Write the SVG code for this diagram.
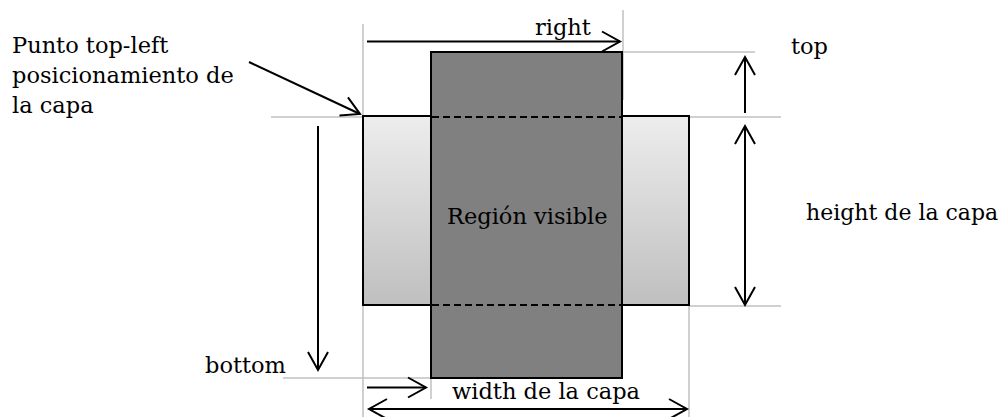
<svg xmlns="http://www.w3.org/2000/svg" width="1003" height="417" viewBox="0 0 1003 417">
<style>
.guide{stroke:#c0c0c0;stroke-width:1.5;fill:none}
.arr{stroke:#000;stroke-width:2;fill:none}
.lbl{font-family:"DejaVu Serif","Liberation Serif",serif;font-size:22.5px;fill:#000}
.box{stroke:#000;stroke-width:2}
.dash{stroke:#000;stroke-width:1.8;stroke-dasharray:7 4}
</style>
<defs>
<linearGradient id="lg" x1="0" y1="0" x2="0" y2="1">
<stop offset="0" stop-color="#ededed"/>
<stop offset="1" stop-color="#bfbfbf"/>
</linearGradient>
<marker id="ah" markerUnits="userSpaceOnUse" markerWidth="24" markerHeight="24" viewBox="-20 -12 24 24" refX="0" refY="0" orient="auto-start-reverse">
<path d="M-18,-10 L0,0 L-18,10" fill="none" stroke="#000" stroke-width="2"/>
</marker>
</defs>
<rect width="1003" height="417" fill="#fff"/>
<g id="guides">
<line class="guide" x1="363" y1="24" x2="363" y2="116"/>
<line class="guide" x1="623" y1="10" x2="623" y2="100"/>
<line class="guide" x1="622" y1="52" x2="755" y2="52"/>
<line class="guide" x1="271" y1="117" x2="363" y2="117"/>
<line class="guide" x1="689" y1="117" x2="781" y2="117"/>
<line class="guide" x1="689" y1="306" x2="781" y2="306"/>
<line class="guide" x1="363" y1="305" x2="363" y2="417"/>
<line class="guide" x1="689" y1="305" x2="689" y2="417"/>
<line class="guide" x1="283" y1="378" x2="431" y2="378"/>
<line class="guide" x1="431" y1="378" x2="431" y2="399"/>
</g>
<g id="capa">
<rect class="box" x="363" y="116" width="326" height="189" fill="url(#lg)"/>
</g>
<g id="region-visible">
<rect class="box" x="431" y="52" width="191" height="326" fill="#808080"/>
<line class="dash" x1="432" y1="117" x2="621" y2="117"/>
<line class="dash" x1="432" y1="305" x2="621" y2="305"/>
<text class="lbl" x="447" y="224">Región visible</text>
</g>
<g id="connectors">
<line class="arr" x1="367" y1="41.5" x2="620" y2="41.5" marker-end="url(#ah)"/>
<line class="arr" x1="249" y1="62" x2="360" y2="114" marker-end="url(#ah)"/>
<line class="arr" x1="745" y1="113" x2="745" y2="57" marker-end="url(#ah)"/>
<line class="arr" x1="745" y1="126" x2="745" y2="305" marker-start="url(#ah)" marker-end="url(#ah)"/>
<line class="arr" x1="318" y1="126" x2="318" y2="370" marker-end="url(#ah)"/>
<line class="arr" x1="367" y1="387.5" x2="426" y2="387.5" marker-end="url(#ah)"/>
<line class="arr" x1="369" y1="409" x2="687" y2="409" marker-start="url(#ah)" marker-end="url(#ah)"/>
</g>
<g id="labels">
<text class="lbl" x="12" y="53">Punto top-left</text>
<text class="lbl" x="12" y="83">posicionamiento de</text>
<text class="lbl" x="12" y="113">la capa</text>
<text class="lbl" x="535" y="35">right</text>
<text class="lbl" x="791" y="54">top</text>
<text class="lbl" x="806" y="220" style="font-size:22px">height de la capa</text>
<text class="lbl" x="205" y="373">bottom</text>
<text class="lbl" x="452" y="399">width de la capa</text>
</g>
</svg>
